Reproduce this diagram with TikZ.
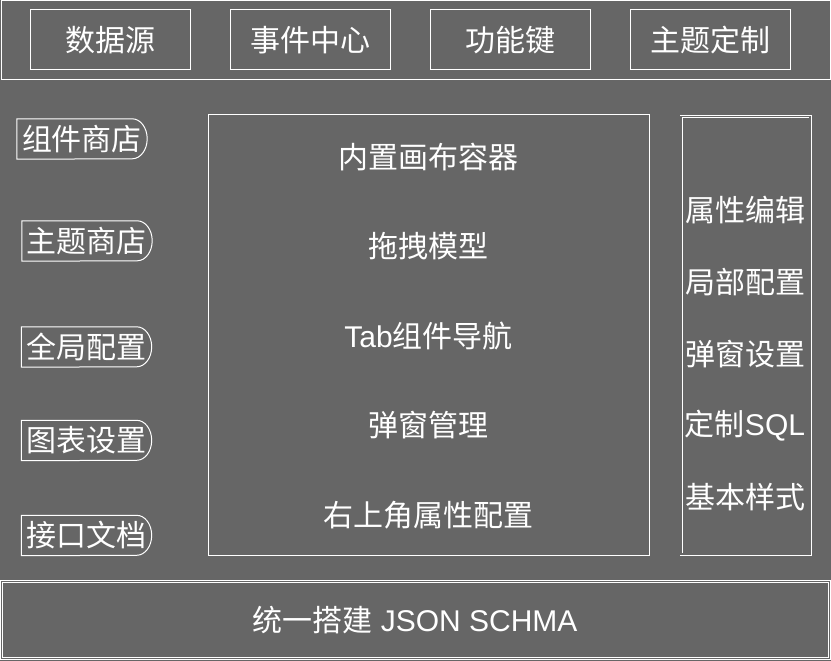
\documentclass[tikz,border=0pt]{standalone}
\usepackage{fontspec}
\setmainfont{Liberation Sans}
\newfontfamily\cjk{Noto Sans CJK SC}
\newfontfamily\enfont{Liberation Sans}
\usetikzlibrary{positioning}
\definecolor{panel}{HTML}{666666}
\newcommand{\bigtxt}{\cjk\fontsize{30}{32}\selectfont}

\begin{document}
\begin{tikzpicture}
  [%
 x=1pt, y=-1pt,
 frame/.style={draw=white, line width=1pt},
 twin/.style={
  draw=white,
  line width=0.8pt,
  double=panel,
  double distance=1.4pt},
 tab/.style={
  rectangle,
  draw=white,
  line width=1pt,
  minimum width=160pt,
  minimum height=60pt,
  text=white,
  font=\bigtxt},
 pill/.style={
  rectangle,
  minimum width=130pt,
  minimum height=40pt,
  inner sep=0pt,
  text=white,
  font=\bigtxt},
 item/.style={
  inner sep=0pt,
  text=white,
  font=\bigtxt}]
% background and frames
\fill[panel] (0,0) rectangle (831,661);
\useasboundingbox (0,0) rectangle (831,661);
\draw[frame] (1,1) rectangle (830,80);
\draw[frame] (208,115) rectangle (649,555);
\draw[twin] (681,116.3) rectangle (810,554);
\draw[twin] (1.5,581.5) rectangle (829.5,658.5);
% top row
\node (source) [tab] at (110,40) {数据源};
\node (events) [tab] at (310,40) {事件中心};
\node (keys) [tab] at (510,40) {功能键};
\node (themes) [tab] at (710,40) {主题定制};
% left column
\node (shop) [pill] at (82,139) {组件商店};
\node (theme) [pill] at (87,241) {主题商店};
\node (global) [pill] at (86.5,347) {全局配置};
\node (chart) [pill] at (86.5,440.5) {图表设置};
\node (api) [pill] at (86.5,535.5) {接口文档};
\foreach \p in {shop,theme,global,chart,api}
  \draw[frame] (\p.north west) -- ([xshift=-15pt]\p.north east)
    arc[start angle=90, end angle=-90, x radius=15pt, y radius=20pt]
    -- (\p.south west) -- cycle;
% centre column
\begin{scope}[node distance=89.5pt, on grid]
\node (canvas) [item] at (428.5,157) {内置画布容器};
\node (drag) [item, below=of canvas] {拖拽模型};
\node (tabnav) [item, below=of drag] {{\enfont Tab}组件导航};
\node (popup) [item, below=of tabnav] {弹窗管理};
\node (corner) [item, below=of popup] {右上角属性配置};
\end{scope}
% right column
\begin{scope}[node distance=71.8pt, on grid]
\node (props) [item] at (745,210) {属性编辑};
\node (local) [item, below=of props] {局部配置};
\node (dialog) [item, below=of local] {弹窗设置};
\node (sql) [item, below=of dialog] {定制{\enfont SQL}};
\node (style) [item, below=of sql] {基本样式};
\end{scope}
% bottom band
\node (schema) [item] at (415,620) {统一搭建{\enfont\ JSON SCHMA}};
\end{tikzpicture}
\end{document}
